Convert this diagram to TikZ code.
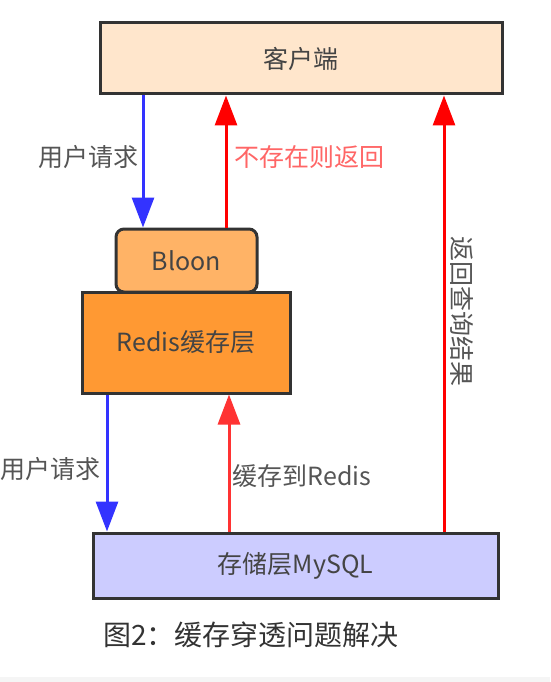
\documentclass[tikz,border=0pt]{standalone}
\usepackage{fontspec}
\setmainfont{Noto Sans CJK SC}
\usetikzlibrary{arrows.meta}
\definecolor{txtgray}{HTML}{444444}
\definecolor{lblgray}{HTML}{555555}
\definecolor{boxline}{HTML}{333333}
\definecolor{clientfill}{HTML}{FFE6CC}
\definecolor{bloonfill}{HTML}{FFB366}
\definecolor{redisfill}{HTML}{FF9933}
\definecolor{mysqlfill}{HTML}{CCCCFF}
\definecolor{arrblue}{HTML}{3333FF}
\definecolor{arrred}{HTML}{FF0000}
\definecolor{arrred2}{HTML}{FF3333}
\definecolor{lblred}{HTML}{FF6666}
\begin{document}
\begin{tikzpicture}[x=1pt,y=-1pt,
  box/.style={draw=boxline, line width=3pt, inner sep=0pt, text=txtgray, font=\fontsize{25}{28}\selectfont},
  flow/.style={line width=3pt, -{Triangle[length=30pt,width=22pt]}},
  lbl/.style={text=lblgray, inner sep=0pt, font=\fontsize{25}{28}\selectfont}]
\useasboundingbox (0,0) rectangle (550,682);
\fill[white] (0,0) rectangle (550,682);
\fill[black!4] (0,677) rectangle (550,682);
\node[box, fill=clientfill, minimum width=402pt, minimum height=71pt] (client) at (301,58.5) {客户端};
\node[box, fill=bloonfill, rounded corners=8pt, minimum width=141pt, minimum height=63pt] (bloon) at (186.5,260.5) {Bloon};
\node[box, fill=redisfill, minimum width=208pt, minimum height=101pt] (redis) at (186,342.5) {Redis缓存层};
\node[box, fill=mysqlfill, minimum width=405pt, minimum height=65pt] (mysql) at (295.5,565.5) {存储层MySQL};
\coordinate (xa) at (143,0);
\coordinate (xb) at (226,0);
\coordinate (xc) at (107,0);
\coordinate (xd) at (229,0);
\coordinate (xe) at (444,0);
\draw[flow, arrblue] (client.south -| xa) -- (bloon.north -| xa);
\draw[flow, arrred] (bloon.north -| xb) -- (client.south -| xb);
\draw[flow, arrblue] (redis.south -| xc) -- (mysql.north -| xc);
\draw[flow, arrred2] (mysql.north -| xd) -- (redis.south -| xd);
\draw[flow, arrred] (mysql.north -| xe) -- (client.south -| xe);
\node[lbl] (l1) at (88,157) {用户请求};
\node[lbl, text=lblred] (l2) at (309,157) {不存在则返回};
\node[lbl] (l3) at (50,469) {用户请求};
\node[lbl] (l4) at (302,476) {缓存到Redis};
\node[lbl, rotate=-90] (l5) at (462,311) {返回查询结果};
\node[text=boxline, inner sep=0pt, font=\fontsize{28}{32}\selectfont] (cap) at (251,635) {图2：缓存穿透问题解决};
\end{tikzpicture}
\end{document}
